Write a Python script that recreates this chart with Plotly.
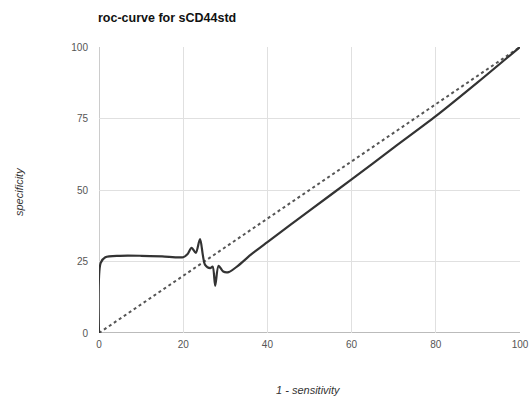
import plotly.graph_objects as go

# ROC curve points (1 - sensitivity, specificity)
roc_x = [0, 0.4, 1.5, 5, 10, 15, 20, 21, 22, 23, 24, 25.2, 26.4, 27, 27.6, 28.4, 29.5, 30.8, 33, 36, 40, 50, 60, 70, 80, 90, 100]
roc_y = [0, 24.5, 26.5, 27, 27, 26.8, 26.5, 27.5, 29.8, 28, 32.8, 23.8, 22.7, 23.2, 16.5, 23.5, 21.5, 21.3, 23.5, 27.3, 31.8, 42.8, 53.7, 64.8, 75.8, 87.7, 100]

# Reference diagonal
diag_x = [0, 100]
diag_y = [0, 100]

x_ticks = [0, 20, 40, 60, 80, 100]
y_ticks = [0, 25, 50, 75, 100]

title_text = "roc-curve for sCD44std"
x_title = "1 - sensitivity"
y_title = "specificity"

fig = go.Figure()
fig.add_trace(go.Scatter(x=diag_x, y=diag_y, mode="lines",
                         line=dict(color="#555555", width=2, dash="dot"),
                         showlegend=False, hoverinfo="skip"))
fig.add_trace(go.Scatter(x=roc_x, y=roc_y, mode="lines",
                         line=dict(color="#333333", width=2.2, shape="spline", smoothing=0.8),
                         showlegend=False))

font_family = "Liberation Sans, Arial, sans-serif"
W, H = 529, 398
L, R, T, B = 99, 9, 47, 65
fig.update_layout(
    width=W, height=H,
    margin=dict(l=L, r=R, t=T, b=B, autoexpand=False),
    paper_bgcolor="white", plot_bgcolor="white",
    font=dict(family=font_family, size=10, color="#444444"),
    title=dict(text="<b>" + title_text + "</b>", x=98 / W, xanchor="left",
               y=1 - 18 / H, yanchor="middle",
               font=dict(size=12.5, color="#111111", family=font_family)),
    xaxis=dict(range=[0, 100], tickvals=x_ticks, showgrid=True, gridcolor="#e0e0e0",
               gridwidth=1, zeroline=False, showline=False, ticks="", automargin=False,
               tickfont=dict(size=10, color="#555555"), ticklabelstandoff=4),
    yaxis=dict(range=[0, 100], tickvals=y_ticks, showgrid=True, gridcolor="#e0e0e0",
               gridwidth=1, zeroline=False, showline=False, ticks="", automargin=False,
               tickfont=dict(size=10, color="#555555"), ticklabelstandoff=10),
)
fig.add_annotation(text="<i>" + x_title + "</i>", xref="paper", yref="paper",
                   x=(308 - L) / (W - L - R), y=-(390 - (H - B)) / (H - T - B),
                   showarrow=False, xanchor="center", yanchor="middle",
                   font=dict(size=11, color="#333333", family=font_family))
fig.add_annotation(text="<i>" + y_title + "</i>", xref="paper", yref="paper",
                   x=-(L - 19) / (W - L - R), y=(H - B - 192) / (H - T - B),
                   showarrow=False, xanchor="center", yanchor="middle", textangle=-90,
                   font=dict(size=11, color="#333333", family=font_family))
# Baselines tied to data coordinates
fig.add_shape(type="line", x0=0, x1=100, y0=0, y1=0, xref="x", yref="y",
              line=dict(color="#bbbbbb", width=2), layer="below")
fig.add_shape(type="line", x0=0, x1=0, y0=0, y1=100, xref="x", yref="y",
              line=dict(color="#bbbbbb", width=1.5), layer="below")

fig.write_html("out.html", config={"displayModeBar": False},
               post_script="document.body.style.margin='0';document.body.style.overflow='hidden';")
